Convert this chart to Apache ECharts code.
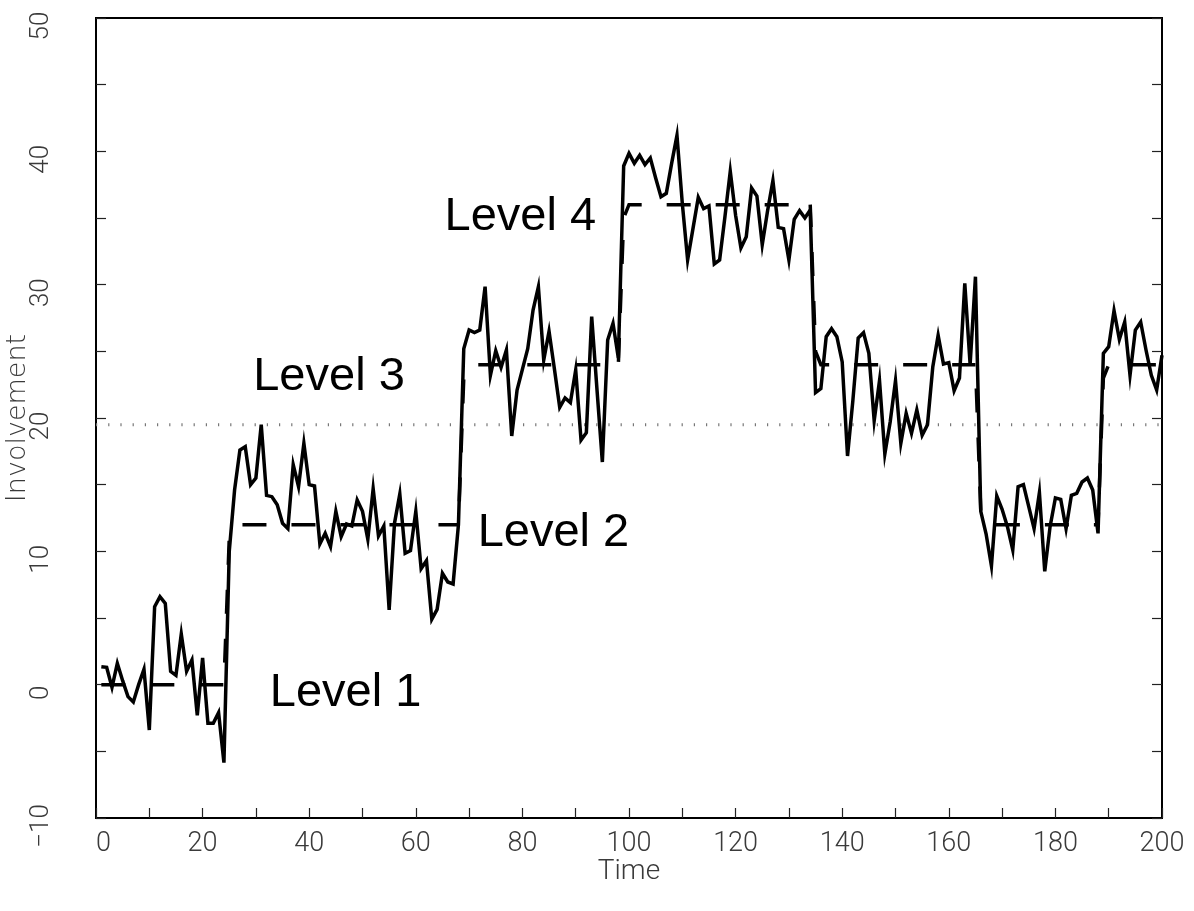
<!DOCTYPE html>
<html>
<head>
<meta charset="utf-8">
<title>Involvement over time</title>
<script src="https://cdn.jsdelivr.net/npm/echarts@6/dist/echarts.min.js"></script>
<style>
  html, body { margin: 0; padding: 0; background: #fff; }
  #chart { width: 1194px; height: 911px; }
</style>
</head>
<body>
<div id="chart"></div>
<script>
// Observed involvement, one value per time step (t = 1 .. 200)
const involvement = [
  1.35, 1.3, -0.2, 1.6, 0.3, -0.9, -1.3, 0.0, 1.15, -3.4,
  5.85, 6.6, 6.1, 1.0, 0.7, 3.8, 1.0, 1.85, -2.3, 2.0,
  -2.9, -2.9, -2.1, -5.85, 10.0, 14.6, 17.6, 17.85, 15.0, 15.5,
  19.5, 14.2, 14.1, 13.5, 12.1, 11.7, 16.5, 14.85, 18.1, 15.0,
  14.9, 10.55, 11.35, 10.35, 13.0, 11.1, 12.05, 11.9, 13.85, 13.0,
  10.9, 14.7, 11.15, 11.9, 5.6, 12.1, 14.3, 9.85, 10.05, 13.0,
  8.7, 9.3, 4.9, 5.65, 8.35, 7.7, 7.55, 12.0, 25.2, 26.6,
  26.4, 26.6, 29.85, 23.2, 25.05, 23.8, 25.1, 18.65, 22.1, 23.65,
  25.2, 28.1, 29.85, 24.35, 26.5, 23.7, 20.8, 21.5, 21.15, 23.6,
  18.35, 18.9, 27.6, 22.1, 16.7, 25.85, 27.1, 24.5, 38.9, 39.85,
  39.1, 39.7, 39.0, 39.5, 38.0, 36.6, 36.85, 39.1, 41.2, 36.1,
  31.85, 34.2, 36.55, 35.7, 35.9, 31.55, 31.85, 35.1, 38.5, 35.2,
  32.75, 33.6, 37.25, 36.65, 33.0, 35.55, 37.8, 34.3, 34.2, 31.85,
  34.9, 35.55, 35.0, 35.6, 21.9, 22.2, 26.1, 26.7, 26.1, 24.2,
  17.15, 21.3, 26.0, 26.4, 24.85, 19.8, 22.8, 17.3, 19.7, 22.8,
  18.1, 20.35, 18.85, 20.6, 18.7, 19.5, 23.85, 26.2, 24.05, 24.15,
  22.05, 23.0, 30.1, 24.0, 30.6, 13.0, 11.3, 8.9, 14.15, 13.15,
  11.85, 10.1, 14.85, 15.0, 13.35, 11.7, 14.4, 8.5, 11.85, 14.0,
  13.9, 11.7, 14.2, 14.35, 15.2, 15.5, 14.6, 11.35, 24.85, 25.35,
  28.05, 25.9, 27.2, 23.2, 26.6, 27.2, 25.1, 23.2, 22.1, 24.7
];
const firstTime = 1;

// Fitted level model: regime start times, regime means and the value
// reached at the first step of each regime
const levelStarts = [1, 25, 69, 99, 135, 166, 189];
const levelMeans = [0, 12, 24, 36, 24, 12, 24];
const levelEntryValues = [0, 11, 23, 35, 25, 13, 23];

// Horizontal reference level
const referenceLevel = 19.5;

// Regime annotations
const levelNames = ['Level 1', 'Level 2', 'Level 3', 'Level 4'];
const levelNameTimes = [32.6, 71.6, 29.5, 65.4];
const levelNameValues = [-0.6, 11.4, 23.1, 35.1];

// Axis settings
const xMin = 0, xMax = 200, xStep = 10, xLabelStep = 20;
const yMin = -10, yMax = 50, yStep = 5, yLabelStep = 10;

// Dash phase of the fitted line, one per regime
const regimeDashOffsets = [0, 27, 25.7, 46.2, 1.6, 25.1, 11.7];

const lastTime = firstTime + involvement.length - 1;
const observedPoints = involvement.map((v, i) => [firstTime + i, v]);

// One dashed path per regime: it begins at the previous regime's last value,
// steps to the entry value and then runs along the regime mean
const regimeSeries = levelStarts.map((start, k) => {
  const end = k + 1 < levelStarts.length ? levelStarts[k + 1] - 1 : lastTime;
  const pts = [];
  if (k > 0) pts.push([start - 1, levelMeans[k - 1]]);
  for (let t = start; t <= end; t++) {
    pts.push([t, t === start ? levelEntryValues[k] : levelMeans[k]]);
  }
  return {
    name: 'Fitted level',
    type: 'line',
    data: pts,
    showSymbol: false,
    silent: true,
    lineStyle: {
      color: '#000', width: 3.5, type: [24, 25],
      dashOffset: regimeDashOffsets[k], cap: 'butt', join: 'miter'
    },
    z: 2
  };
});

const annotationPoints = levelNames.map((name, i) => [levelNameTimes[i], levelNameValues[i], name]);

const tickFont = {
  fontFamily: 'Roboto',
  fontWeight: 300,
  fontSize: 27,
  color: '#3a3a3a'
};

const tickStyle = { show: true, inside: true, length: 10, lineStyle: { color: '#222', width: 1.2 } };
const frameLine = { show: true, onZero: false, lineStyle: { color: '#000', width: 2 } };

const chart = echarts.init(document.getElementById('chart'), null, { renderer: 'canvas' });

chart.setOption({
  animation: false,
  backgroundColor: '#ffffff',
  grid: {
    left: 96, right: 32, top: 18, bottom: 93,
    containLabel: false,
    outerBoundsMode: 'none',
    show: true, borderColor: '#000', borderWidth: 2, backgroundColor: 'transparent'
  },
  xAxis: {
    type: 'value',
    min: xMin, max: xMax, interval: xStep,
    name: 'Time',
    nameLocation: 'middle',
    nameGap: 40,
    nameMoveOverlap: false,
    nameTextStyle: Object.assign({}, tickFont, { fontSize: 28 }),
    axisLine: frameLine,
    axisTick: tickStyle,
    axisLabel: Object.assign({}, tickFont, {
      margin: 13,
      alignMinLabel: 'left',
      formatter: v => (v % xLabelStep === 0 ? String(v) : '')
    }),
    splitLine: { show: false }
  },
  yAxis: [
    {
      type: 'value',
      min: yMin, max: yMax, interval: yStep,
      position: 'left',
      name: 'Involvement',
      nameLocation: 'middle',
      nameRotate: 90,
      nameGap: 65,
      nameMoveOverlap: false,
      nameTextStyle: { fontFamily: 'DejaVu Sans', fontWeight: 200, fontSize: 27, color: '#3a3a3a' },
      axisLine: frameLine,
      axisTick: tickStyle,
      axisLabel: Object.assign({}, tickFont, {
        fontSize: 26,
        rotate: 90,
        margin: 42,
        padding: [0, 16, 0, 0],
        formatter: v => (v % yLabelStep === 0 ? String(v).replace('-', '\u2212') : '')
      }),
      splitLine: { show: false }
    },
    {
      type: 'value',
      min: yMin, max: yMax, interval: yStep,
      position: 'right',
      axisLine: frameLine,
      axisTick: tickStyle,
      axisLabel: { show: false },
      splitLine: { show: false }
    }
  ],
  series: [
    {
      name: 'Reference level',
      type: 'line',
      data: [[xMin, referenceLevel], [xMax, referenceLevel]],
      showSymbol: false,
      silent: true,
      lineStyle: { color: '#777', width: 3, type: [1.2, 11], cap: 'butt' },
      z: 1
    },
    ...regimeSeries,
    {
      name: 'Involvement',
      type: 'line',
      data: observedPoints,
      showSymbol: false,
      lineStyle: { color: '#000', width: 3.5, join: 'miter', miterLimit: 10 },
      z: 3
    },
    {
      name: 'Levels',
      type: 'scatter',
      data: annotationPoints,
      symbolSize: 0,
      silent: true,
      itemStyle: { opacity: 1 },
      label: {
        show: true,
        position: 'right',
        distance: 0,
        formatter: p => p.data[2],
        fontFamily: 'Liberation Sans',
        fontSize: 47,
        color: '#000',
        opacity: 1
      },
      z: 4
    }
  ]
});
</script>
</body>
</html>
